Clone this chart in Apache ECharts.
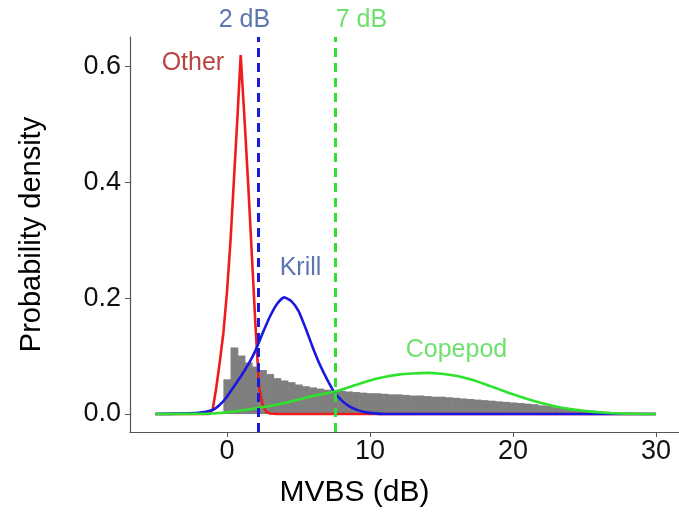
<!DOCTYPE html>
<html>
<head>
<meta charset="utf-8">
<script src="https://cdn.jsdelivr.net/npm/echarts@6/dist/echarts.min.js"></script>
<style>
html,body{margin:0;padding:0;background:#fff;}
#chart{width:679px;height:516px;}
</style>
</head>
<body>
<div id="chart"></div>
<script>
// ---- Data ----
// Histogram of MVBS: bin left edges (dB), bin width and densities
var histBinStart = -0.25;
var histBinWidth = 0.5;
var histDensity = [
  0.060, 0.115, 0.101, 0.089, 0.082, 0.076, 0.069, 0.062, 0.058, 0.055,
  0.051, 0.048, 0.046, 0.044, 0.042, 0.041, 0.040, 0.039, 0.038, 0.037,
  0.036, 0.036, 0.035, 0.034, 0.034, 0.033, 0.032, 0.032, 0.031, 0.030,
  0.030, 0.029, 0.028, 0.027, 0.026, 0.025, 0.024, 0.023, 0.022, 0.021,
  0.020, 0.019, 0.018, 0.017, 0.015, 0.014, 0.012, 0.011, 0.009, 0.008,
  0.007, 0.006, 0.005, 0.004, 0.003, 0.002, 0.002, 0.001, 0.001
];

// Density curves
var otherX = [-5, -2, -1.25, -1.0, -0.75, -0.5, -0.25, 0, 0.25, 0.5, 0.75, 0.96, 1.25, 1.5, 1.75, 2.0, 2.25, 2.5, 2.75, 3.0, 3.5, 30];
var otherY = [0, 0, 0, 0.008, 0.045, 0.09, 0.14, 0.21, 0.30, 0.41, 0.52, 0.62, 0.50, 0.39, 0.27, 0.15, 0.045, 0.015, 0.004, 0.001, 0, 0];

var krillX = [-5, -2, -1, -0.5, 0, 0.5, 1, 1.5, 2, 2.5, 3, 3.5, 4, 4.5, 5, 5.5, 6, 6.5, 7, 7.5, 8, 8.5, 9, 9.5, 10, 11, 30];
var krillY = [0, 0.002, 0.007, 0.016, 0.030, 0.048, 0.066, 0.086, 0.110, 0.140, 0.168, 0.190, 0.2015, 0.195, 0.178, 0.148, 0.115, 0.085, 0.06, 0.038, 0.024, 0.014, 0.008, 0.004, 0.002, 0, 0];

var copepodX = [-5, -2, -1, 0, 1, 2, 3, 4, 5, 6, 7, 8, 9, 10, 11, 12, 13, 14, 15, 16, 17, 18, 19, 20, 21, 22, 23, 24, 25, 26, 27, 28, 29, 30];
var copepodY = [0, 0.0005, 0.001, 0.003, 0.006, 0.010, 0.014, 0.019, 0.025, 0.031, 0.036, 0.042, 0.050, 0.058, 0.064, 0.068, 0.070, 0.071, 0.0695, 0.066, 0.060, 0.052, 0.043, 0.034, 0.026, 0.019, 0.013, 0.0085, 0.0055, 0.003, 0.0015, 0.0007, 0.0003, 0];

// Thresholds (vertical dashed lines)
var thresholdX = [2.2, 7.6];

// Text annotations
var annoText = ['Other', '2 dB', '7 dB', 'Krill', 'Copepod'];
var annoX = [-2.38, 1.22, 9.4, 5.14, 16.05];
var annoY = [0.606, 0.680, 0.680, 0.252, 0.110];

// Axis ticks
var xTicks = [0, 10, 20, 30];
var yTicks = [0, 0.2, 0.4, 0.6];

// ---- Build ----
function zip(xs, ys) { return xs.map(function (x, i) { return [x, ys[i]]; }); }
var histData = histDensity.map(function (d, i) {
  var x0 = histBinStart + i * histBinWidth;
  return [x0, x0 + histBinWidth, d];
});

var annoColors = ['#a81414', '#34549c', '#48d848', '#34549c', '#48d848'];
var annoData = annoText.map(function (t, i) {
  return { name: t, value: [annoX[i], annoY[i]], label: { color: annoColors[i] } };
});

var FONT = '"Liberation Sans", Arial, sans-serif';
var chart = echarts.init(document.getElementById('chart'), null, { renderer: 'canvas' });
chart.setOption({
  animation: false,
  backgroundColor: '#ffffff',
  grid: { left: 130, right: 0, top: 37, bottom: 84, containLabel: false },
  xAxis: {
    type: 'value', min: -6.78, max: 31.61,
    name: 'MVBS (dB)', nameLocation: 'middle', nameGap: 46,
    nameTextStyle: { fontFamily: FONT, fontSize: 30, color: '#000', padding: [0, 100, 0, 0] },
    axisLine: { show: true, onZero: false, lineStyle: { color: '#555', width: 1.2 } },
    axisTick: { show: true, length: 5, lineStyle: { color: '#555' }, customValues: xTicks },
    axisLabel: { fontFamily: FONT, fontSize: 27, color: '#111', margin: 6, customValues: xTicks },
    splitLine: { show: false }
  },
  yAxis: {
    type: 'value', min: -0.031, max: 0.651,
    name: 'Probability density', nameLocation: 'middle', nameGap: 84, nameRotate: 90,
    nameTextStyle: { fontFamily: FONT, fontSize: 29, color: '#000' },
    axisLine: { show: true, onZero: false, lineStyle: { color: '#555', width: 1.2 } },
    axisTick: { show: true, length: 5, lineStyle: { color: '#555' }, customValues: yTicks },
    axisLabel: { fontFamily: FONT, fontSize: 27, color: '#111', margin: 9, customValues: yTicks,
      formatter: function (v) { return v.toFixed(1); } },
    splitLine: { show: false }
  },
  series: [
    {
      type: 'custom', name: 'hist', z: 1,
      data: histData,
      encode: { x: [0, 1], y: 2 },
      renderItem: function (params, api) {
        var p0 = api.coord([api.value(0), 0]);
        var p1 = api.coord([api.value(1), api.value(2)]);
        return {
          type: 'rect',
          shape: { x: p0[0], y: p1[1], width: p1[0] - p0[0] + 0.6, height: p0[1] - p1[1] },
          style: { fill: '#7f7f7f' }
        };
      }
    },
    { type: 'line', name: 'Other', data: zip(otherX, otherY), showSymbol: false, smooth: false, z: 2,
      lineStyle: { color: '#f01c1c', width: 2.6 } },
    { type: 'line', name: 'Krill', data: zip(krillX, krillY), showSymbol: false, smooth: 0.2, z: 3,
      lineStyle: { color: '#1818e0', width: 2.6 } },
    { type: 'line', name: 'Copepod', data: zip(copepodX, copepodY), showSymbol: false, smooth: 0.3, z: 4,
      lineStyle: { color: '#2ee22e', width: 2.6 } },
    {
      type: 'line', name: 'thresholds', data: [], z: 5,
      markLine: {
        silent: true, symbol: 'none', label: { show: false },
        data: [
          { xAxis: thresholdX[0], lineStyle: { color: '#1a1ad8', type: [9, 6], width: 3 } },
          { xAxis: thresholdX[1], lineStyle: { color: '#33dd33', type: [9, 6], width: 3 } }
        ]
      }
    },
    {
      type: 'scatter', name: 'labels', data: annoData, symbolSize: 1, clip: false, z: 6,
      itemStyle: { color: 'rgba(0,0,0,0)' },
      label: { show: true, position: 'inside', fontFamily: FONT, fontSize: 25,
        formatter: function (p) { return p.name; } }
    }
  ]
});
</script>
</body>
</html>
